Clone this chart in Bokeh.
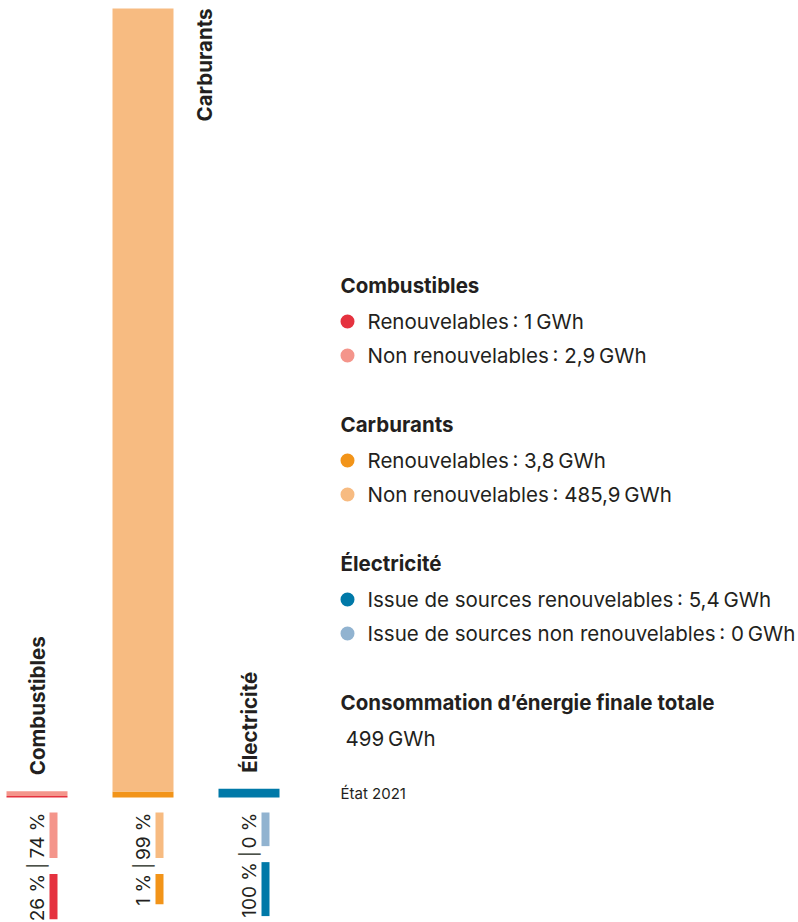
import math
from bokeh.plotting import figure
from bokeh.models import Range1d, ColumnDataSource
from bokeh.core.properties import value
from bokeh.embed import file_html
from bokeh.resources import INLINE

# ---------------- data ----------------
categories = ["Combustibles", "Carburants", "Électricité"]
renewable = [1.0, 3.8, 5.4]            # GWh
non_renewable = [2.9, 485.9, 0.0]      # GWh
pct_renewable = [26, 1, 100]
pct_non_renewable = [74, 99, 0]
colors_renewable = ["#E5323F", "#F29419", "#0079A8"]
colors_non_renewable = ["#F4958B", "#F7BB81", "#91B3D0"]
legend_renewable = ["Renouvelables", "Renouvelables", "Issue de sources renouvelables"]
legend_non_renewable = ["Non renouvelables", "Non renouvelables", "Issue de sources non renouvelables"]
total_title = "Consommation d’énergie finale totale"
total_value = 499
unit = "GWh"
note = "État 2021"

# ---------------- layout constants ----------------
W, H = 798, 922
FONT = "Inter"
TXT = "#231F20"
unit_px = 106.0          # pixels between category centres
first_center_px = 36.5
bar_px = 61.0
baseline_px = 797.0      # from top
top_px = 8.0
FS = "20.5px"

totals = [r + n for r, n in zip(renewable, non_renewable)]
scale = (baseline_px - top_px) / max(totals)
x_start = -first_center_px / unit_px
y_start = -(H - baseline_px) / scale
y_end = max(totals) + top_px / scale

p = figure(width=W, height=H, x_range=Range1d(x_start, x_start + W / unit_px),
           y_range=Range1d(y_start, y_end), output_backend="svg",
           toolbar_location=None, x_axis_location=None, y_axis_location=None,
           min_border=0, background_fill_color="white", border_fill_color="white")
p.grid.visible = False
p.outline_line_color = None
p.extra_x_ranges = {"px": Range1d(0, W)}
p.extra_y_ranges = {"py": Range1d(H, 0)}

idx = list(range(len(categories)))
bw = bar_px / unit_px
src = ColumnDataSource(dict(x=idx, r=renewable, t=totals,
                            cr=colors_renewable, cn=colors_non_renewable))
p.vbar(x="x", bottom=0, top="r", width=bw, fill_color="cr", line_color=None, source=src)
p.vbar(x="x", bottom="r", top="t", width=bw, fill_color="cn", line_color=None, source=src)

# category labels (rotated)
for i, (c, t) in enumerate(zip(categories, totals)):
    if t > 0.5 * max(totals):
        p.text(x=[i + bw], y=[t], text=[c], angle=math.pi / 2, text_align="right",
               text_baseline="middle", text_font=value(FONT), text_font_style="bold",
               text_font_size=FS, text_color=TXT)
    else:
        p.text(x=[i], y=[t], text=[c], angle=math.pi / 2, text_align="left",
               text_baseline="middle", y_offset=-16, text_font=value(FONT),
               text_font_style="bold", text_font_size=FS, text_color=TXT)

# percentage labels with underline bars
PFS = 19.0
cw = {"0": 0.62, "1": 0.45, "2": 0.62, "3": 0.62, "4": 0.62, "5": 0.62, "6": 0.62,
      "7": 0.62, "8": 0.62, "9": 0.62, " ": 0.27, "%": 0.88}

def tw(s):
    return sum(cw.get(ch, 0.6) for ch in s) * PFS

pct_top = 812.0
gap = 16.0
for i in idx:
    s_nr = f"{pct_non_renewable[i]} %"
    s_r = f"{pct_renewable[i]} %"
    w_nr, w_r = tw(s_nr), tw(s_r)
    y_r_top = pct_top + w_nr + gap
    kw = dict(angle=math.pi / 2, text_align="right", text_baseline="middle",
              text_font=value(FONT), text_font_size=f"{PFS}px", text_color=TXT,
              y_range_name="py")
    p.text(x=[i], y=[pct_top], text=[s_nr], **kw)
    p.text(x=[i], y=[y_r_top], text=[s_r], **kw)
    kw2 = dict(kw); kw2["text_align"] = "center"
    p.text(x=[i], y=[pct_top + w_nr + gap / 2], text=["|"], **kw2)
    xl, xr = i + 12.5 / unit_px, i + 20.5 / unit_px
    p.quad(left=[xl], right=[xr], top=[pct_top], bottom=[pct_top + w_nr],
           fill_color=colors_non_renewable[i], line_color=None, y_range_name="py")
    p.quad(left=[xl], right=[xr], top=[y_r_top], bottom=[y_r_top + w_r],
           fill_color=colors_renewable[i], line_color=None, y_range_name="py")

# ---------------- legend ----------------
def fmt(v):
    return str(int(v)) if float(v).is_integer() else f"{v:.1f}".replace(".", ",")

LX_HEAD, LX_DOT, LX_TEXT = 340, 347, 367
y0, group_step, first_item, item_step = 285, 139, 36, 34
hkw = dict(text_font=value(FONT), text_font_style="bold", text_font_size=FS,
           text_color=TXT, text_baseline="middle", x_range_name="px", y_range_name="py")
ikw = dict(text_font=value(FONT), text_font_size=FS, text_color=TXT,
           text_baseline="middle", x_range_name="px", y_range_name="py")
for g, c in enumerate(categories):
    yh = y0 + g * group_step
    p.text(x=[LX_HEAD], y=[yh], text=[c], **hkw)
    rows = [(legend_renewable[g], renewable[g], colors_renewable[g]),
            (legend_non_renewable[g], non_renewable[g], colors_non_renewable[g])]
    for k, (lab, v, col) in enumerate(rows):
        yi = yh + first_item + k * item_step
        p.scatter(x=[LX_DOT], y=[yi], size=14, fill_color=col, line_color=None,
                  x_range_name="px", y_range_name="py")
        p.text(x=[LX_TEXT], y=[yi], text=[f"{lab}\u202f: {fmt(v)}\u202f{unit}"], **ikw)

yt = y0 + len(categories) * group_step
p.text(x=[LX_HEAD], y=[yt], text=[total_title], **hkw)
p.text(x=[LX_HEAD + 5], y=[yt + first_item], text=[f"{total_value}\u202f{unit}"], **ikw)
nkw = dict(ikw); nkw["text_font_size"] = "15px"
p.text(x=[LX_HEAD], y=[yt + 91], text=[note], **nkw)

open("out.html", "w").write(file_html(p, INLINE))
